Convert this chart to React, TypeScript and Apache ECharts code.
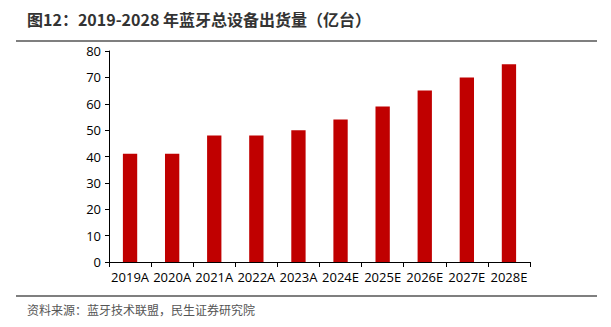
import React, { useEffect, useRef } from "react";
import * as echarts from "echarts";

const categories = ["2019A", "2020A", "2021A", "2022A", "2023A", "2024E", "2025E", "2026E", "2027E", "2028E"];
const shipments = [41, 41, 48, 48, 50, 54, 59, 65, 70, 75];
const titleText = "图12：2019-2028 年蓝牙总设备出货量（亿台）";
const sourceText = "资料来源：蓝牙技术联盟，民生证券研究院";

const FONT = "'Noto Sans CJK SC', 'Noto Sans', sans-serif";
const NUM_FONT = "'Open Sans', 'Noto Sans', sans-serif";

export default function App() {
  const ref = useRef<HTMLDivElement>(null);
  useEffect(() => {
    if (!ref.current) return;
    const chart = echarts.init(ref.current, undefined, { renderer: "svg" });
    chart.setOption({
      animation: false,
      backgroundColor: "#ffffff",
      textStyle: { fontFamily: FONT },
      graphic: [
        {
          type: "text",
          left: 27,
          top: 11,
          style: { text: titleText, font: `bold 16px ${FONT}`, fill: "#333333" },
        },
        {
          type: "line",
          shape: { x1: 16, y1: 41, x2: 597, y2: 41 },
          style: { stroke: "#555555", lineWidth: 1.5 },
        },
        {
          type: "line",
          shape: { x1: 16, y1: 296, x2: 597, y2: 296 },
          style: { stroke: "#555555", lineWidth: 1.5 },
        },
        {
          type: "text",
          left: 27,
          top: 303,
          style: { text: sourceText, font: `12px ${FONT}`, fill: "#555555" },
        },
      ],
      grid: { left: 109, right: 81, top: 51, bottom: 65 },
      xAxis: {
        type: "category",
        data: categories,
        axisLine: { lineStyle: { color: "#000000", width: 1 } },
        axisTick: { show: true, alignWithLabel: false, length: 5, lineStyle: { color: "#000000" } },
        axisLabel: { color: "#000000", fontSize: 13, margin: 8, interval: 0, fontFamily: NUM_FONT },
      },
      yAxis: {
        type: "value",
        min: 0,
        max: 80,
        interval: 10,
        axisLine: { show: true, lineStyle: { color: "#000000", width: 1 } },
        axisTick: { show: true, length: 4, lineStyle: { color: "#000000" } },
        axisLabel: { color: "#000000", fontSize: 13, margin: 8, fontFamily: NUM_FONT },
        splitLine: { show: false },
      },
      series: [
        {
          type: "bar",
          data: shipments,
          barWidth: "34%",
          itemStyle: { color: "#C00000" },
        },
      ],
    });
    return () => chart.dispose();
  }, []);
  return (
    <div
      ref={ref}
      style={{ position: "fixed", left: 0, top: 0, width: 611, height: 327 }}
    />
  );
}
